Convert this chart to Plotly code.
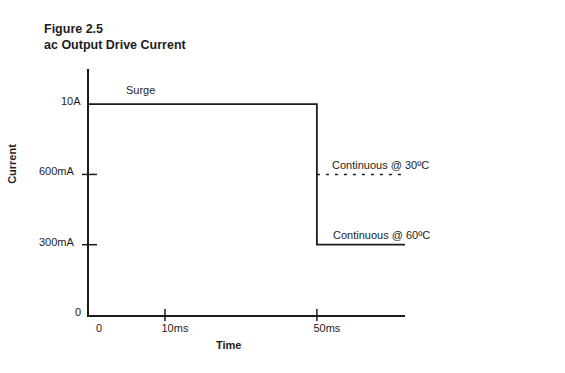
import plotly.graph_objects as go

# ---- data (schematic levels) ----
time_labels = ["0", "10ms", "50ms"]
time_pos = [0, 1, 3]
current_labels = ["0", "300mA", "600mA", "10A"]
current_pos = [0, 1, 2, 3]
current_has_tick = [False, True, True, False]

surge_x = [0, 3]          # surge from 0 to 50ms
surge_level = 3           # 10A
cont60_x = [3, 4.16]
cont60_level = 1          # 300mA
cont30_x = [3, 4.2]
cont30_level = 2          # 600mA

title_lines = ["Figure 2.5", "ac Output Drive Current"]

FONT = "Liberation Sans, Arial, Helvetica, sans-serif"
INK = "#1c1c1c"

fig = go.Figure()

# solid step: surge then drop to continuous @ 60C
fig.add_trace(go.Scatter(
    x=[surge_x[0], surge_x[1], cont60_x[0], cont60_x[1]],
    y=[surge_level, surge_level, cont60_level, cont60_level],
    mode="lines", line=dict(color=INK, width=1.8), hoverinfo="skip",
    cliponaxis=False, showlegend=False))

# dashed continuous @ 30C
fig.add_trace(go.Scatter(
    x=cont30_x, y=[cont30_level, cont30_level],
    mode="lines", line=dict(color=INK, width=1.4, dash="3px,6px"),
    hoverinfo="skip", cliponaxis=False, showlegend=False))

shapes = []
# crossing ticks on x axis
for p in time_pos[1:]:
    shapes.append(dict(type="line", xref="x", yref="paper", ysizemode="pixel",
                       yanchor=0, x0=p, x1=p, y0=-6, y1=6,
                       line=dict(color=INK, width=1.5)))
# crossing ticks on y axis (600mA, 300mA)
for p, t in zip(current_pos, current_has_tick):
    if t:
        shapes.append(dict(type="line", xref="paper", yref="y", xsizemode="pixel",
                           xanchor=0, x0=-7, x1=8, y0=p, y1=p,
                           line=dict(color=INK, width=1.5)))

annotations = [
    dict(text="<b>%s<br>%s</b>" % tuple(title_lines), xref="paper", yref="paper",
         x=-0.149, y=1.20, xanchor="left", yanchor="top", align="left",
         showarrow=False, font=dict(size=12.5, family=FONT, color=INK)),
    dict(text="<b>Current</b>", xref="paper", yref="paper", x=-0.244, y=0.614,
         xanchor="center", yanchor="middle", textangle=-90, showarrow=False,
         font=dict(size=11, family=FONT, color=INK)),
    dict(text="<b>Time</b>", xref="paper", yref="paper", x=0.443, y=-0.122,
         xanchor="center", yanchor="middle", showarrow=False,
         font=dict(size=11, family=FONT, color=INK)),
    dict(text="Surge", xref="x", yref="y", x=0.46, y=surge_level, yshift=14,
         xanchor="left", yanchor="middle", showarrow=False,
         font=dict(size=11, family=FONT, color=INK)),
    dict(text="Continuous @ 30ºC", xref="x", yref="y", x=3.17, y=cont30_level,
         yshift=9, xanchor="left", yanchor="middle", showarrow=False,
         font=dict(size=11, family=FONT, color=INK)),
    dict(text="Continuous @ 60ºC", xref="x", yref="y", x=3.18, y=cont60_level,
         yshift=10, xanchor="left", yanchor="middle", showarrow=False,
         font=dict(size=11, family=FONT, color=INK)),
]
# y tick labels as annotations (placed left of the crossing ticks)
for lab, p, t in zip(current_labels, current_pos, current_has_tick):
    annotations.append(dict(text=lab, xref="x", yref="y", x=0, y=p,
                            xshift=-12 if t else -6, yshift=3,
                            xanchor="right", yanchor="middle", showarrow=False,
                            font=dict(size=11, family=FONT, color=INK)))

fig.update_layout(
    width=565, height=373,
    margin=dict(l=89, r=160, t=69, b=58),
    paper_bgcolor="white", plot_bgcolor="white",
    font=dict(family=FONT, size=11, color=INK),
    shapes=shapes, annotations=annotations,
    xaxis=dict(range=[0, 4.16], showgrid=False, zeroline=False,
               showline=True, linecolor=INK, linewidth=2,
               tickmode="array", tickvals=time_pos, ticktext=time_labels,
               ticks="", ticklabelstandoff=2, ticklabelshift=10,
               tickfont=dict(size=11, family=FONT, color=INK), fixedrange=True),
    yaxis=dict(range=[0, 3.5], showgrid=False, zeroline=False,
               showline=True, linecolor=INK, linewidth=2,
               tickmode="array", tickvals=current_pos, showticklabels=False,
               ticks="", fixedrange=True),
)

fig.write_html("out.html", config={"displayModeBar": False},
               post_script="document.body.style.margin='0';")
